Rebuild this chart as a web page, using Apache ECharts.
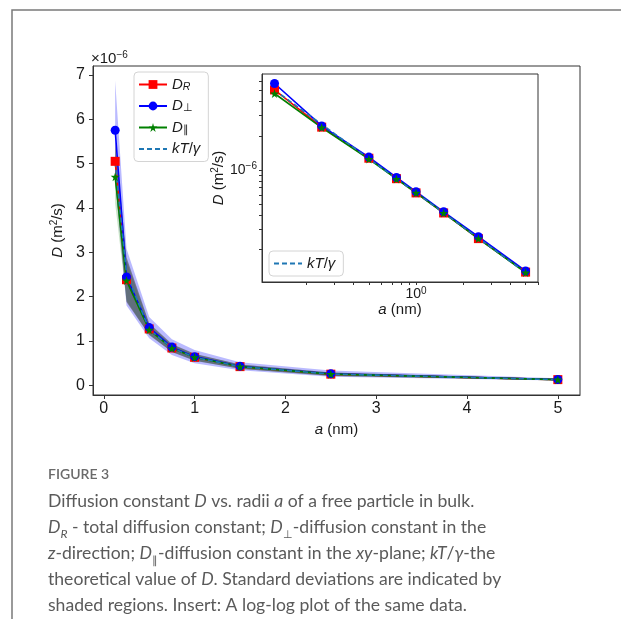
<!DOCTYPE html>
<html>
<head>
<meta charset="utf-8">
<script src="https://cdn.jsdelivr.net/npm/echarts@6/dist/echarts.min.js"></script>
<style>
  html, body { margin: 0; padding: 0; background: #fff; }
  #main { width: 621px; height: 619px; }
</style>
</head>
<body>
<div id="main"></div>
<script>
// radii a (nm) and diffusion constants in units of 1e-6 m^2/s
var radii = [0.125, 0.25, 0.5, 0.75, 1, 1.5, 2.5, 5];
var dR = [5.05, 2.38, 1.27, 0.84, 0.63, 0.42, 0.25, 0.127];
var dPerp = [5.75, 2.44, 1.30, 0.86, 0.645, 0.43, 0.26, 0.13];
var dPar = [4.70, 2.36, 1.25, 0.835, 0.63, 0.42, 0.25, 0.126];
var kTgamma = [5.04, 2.52, 1.26, 0.84, 0.63, 0.42, 0.252, 0.126];
// standard deviations (shaded regions)
var dPerpStd = [1.12, 0.64, 0.24, 0.18, 0.15, 0.09, 0.07, 0.025];
var dRStd = [0.45, 0.5, 0.13, 0.09, 0.08, 0.05, 0.04, 0.015];
var dParStd = [0.6, 0.45, 0.12, 0.08, 0.07, 0.05, 0.035, 0.012];

var xTicks = [0, 1, 2, 3, 4, 5];
var yTicks = [0, 1, 2, 3, 4, 5, 6, 7];
var insetXMinor = [0.2, 0.3, 0.4, 0.5, 0.6, 0.7, 0.8, 0.9, 1, 2, 3, 4, 5, 6];
var insetYMinor = [0.2, 0.3, 0.4, 0.5, 0.6, 0.7, 0.8, 0.9, 1, 2, 3, 4, 5, 6];

var legendNames = {
  'D_R': '{i|D}{subi|R}',
  'D_perp': '{i|D}{sub|⊥}',
  'D_par': '{i|D}{sub|∥}',
  'kT': '{i|kT}/{i|γ}'
};

var axisFont = 'Liberation Sans';
var richText = {
  i: { fontStyle: 'italic', fontSize: 15, fontFamily: axisFont, color: '#1a1a1a' },
  n: { fontSize: 14, fontFamily: axisFont, color: '#1a1a1a' },
  t: { fontSize: 16, fontFamily: axisFont, color: '#1a1a1a' },
  sub: { fontSize: 10.5, fontFamily: axisFont, color: '#1a1a1a', verticalAlign: 'bottom', padding: [5, 0, 0, 0] },
  subi: { fontSize: 10.5, fontStyle: 'italic', fontFamily: axisFont, color: '#1a1a1a', verticalAlign: 'bottom', padding: [5, 0, 0, 0] },
  sup: { fontSize: 10, fontFamily: axisFont, color: '#1a1a1a', verticalAlign: 'top', padding: [0, 0, 7, 0] }
};

var starPath = 'path://M50,0 L61,35 L98,35 L68,57 L79,91 L50,70 L21,91 L32,57 L2,35 L39,35 Z';

function pairs(arr) {
  return radii.map(function (a, i) { return [a, arr[i]]; });
}

function band(mean, std, fill, xi) {
  return {
    type: 'custom',
    xAxisIndex: xi, yAxisIndex: xi,
    silent: true,
    data: pairs(mean),
    renderItem: function (params, api) {
      if (params.dataIndex !== 0) return;
      var pts = [];
      for (var i = 0; i < radii.length; i++) pts.push(api.coord([radii[i], mean[i] + std[i]]));
      for (var j = radii.length - 1; j >= 0; j--) pts.push(api.coord([radii[j], mean[j] - std[j]]));
      return { type: 'polygon', shape: { points: pts }, style: { fill: fill } };
    }
  };
}

function line(name, arr, color, symbol, size, xi, dashed) {
  return {
    type: 'line', name: name,
    xAxisIndex: xi, yAxisIndex: xi,
    data: pairs(arr),
    symbol: symbol, symbolSize: size,
    showSymbol: symbol !== 'none',
    color: color,
    itemStyle: { color: color },
    lineStyle: { color: color, width: 1.6, type: dashed ? [5, 3] : 'solid' },
    animation: false
  };
}

function tickText(v) { return '{t|' + v + '}'; }

var legendData = ['D_R', 'D_perp', 'D_par', { name: 'kT', itemStyle: { opacity: 0 } }];

var myChart = echarts.init(document.getElementById('main'));
var option = {
  animation: false,
  backgroundColor: '#fff',
  title: [{
    left: 86, top: 45,
    text: '×10{sup|−6}',
    textStyle: { fontSize: 15, fontWeight: 'normal', fontFamily: axisFont, color: '#1a1a1a', rich: richText }
  }, {
    left: 43, top: 462,
    text: 'FIGURE 3',
    textStyle: { fontSize: 14, fontWeight: 600, fontFamily: 'Lato', color: '#6a6a6a' }
  }, {
    left: 43, top: 483,
    text: 'Diffusion constant {ci|D} vs. radii {ci|a} of a free particle in bulk.\n' +
      '{ci|D}{csub|R} - total diffusion constant; {ci|D}{csubn|⊥}-diffusion constant in the\n' +
      '{ci|z}-direction; {ci|D}{csubn|∥}-diffusion constant in the {ci|xy}-plane; {ci|kT}/{ci|γ}-the\n' +
      'theoretical value of {ci|D}. Standard deviations are indicated by\n' +
      'shaded regions. Insert: A log-log plot of the same data.',
    textStyle: {
      fontSize: 17.6, fontWeight: 'normal', fontFamily: 'Lato', color: '#5a5a5a', lineHeight: 26,
      rich: {
        ci: { fontSize: 17.6, fontStyle: 'italic', fontFamily: 'Lato', color: '#5a5a5a', lineHeight: 26 },
        csub: { fontSize: 12, fontStyle: 'italic', fontFamily: 'Lato', color: '#5a5a5a', verticalAlign: 'bottom', padding: [4, 0, 0, 0] },
        csubn: { fontSize: 11, fontFamily: 'Lato', color: '#5a5a5a', verticalAlign: 'bottom', padding: [4, 0, 0, 0] }
      }
    }
  }],
  graphic: [{
    type: 'rect', silent: true,
    shape: { x: 12, y: 10, width: 800, height: 800 },
    style: { fill: 'none', stroke: '#7a7a7a', lineWidth: 1.5 }
  }],
  legend: [{
    left: 134, top: 72,
    orient: 'vertical',
    data: legendData,
    itemWidth: 28, itemHeight: 11, itemGap: 6,
    padding: [5, 8, 5, 4],
    borderColor: '#d4d4d4', borderWidth: 1, borderRadius: 4,
    backgroundColor: 'rgba(255,255,255,0.85)',
    formatter: function (name) { return legendNames[name]; },
    textStyle: { fontFamily: axisFont, fontSize: 15, color: '#1a1a1a', rich: richText }
  }, {
    left: 269, top: 251,
    data: [{ name: 'kT', itemStyle: { opacity: 0 } }],
    itemWidth: 28, itemHeight: 11,
    padding: [5, 8, 5, 4],
    borderColor: '#d4d4d4', borderWidth: 1, borderRadius: 4,
    backgroundColor: 'rgba(255,255,255,0.85)',
    formatter: function (name) { return legendNames[name]; },
    textStyle: { fontFamily: axisFont, fontSize: 15, color: '#1a1a1a', rich: richText }
  }],
  grid: [{
    left: 93, right: 41, top: 66, bottom: 224,
    show: true, borderColor: '#333', borderWidth: 1, backgroundColor: 'rgba(0,0,0,0)'
  }, {
    left: 262, right: 83, top: 74, bottom: 337,
    show: true, borderColor: '#333', borderWidth: 1, backgroundColor: '#fff'
  }],
  xAxis: [{
    type: 'value', gridIndex: 0,
    min: -0.119, max: 5.244,
    name: '{i|a} (nm)', nameLocation: 'middle', nameGap: 22,
    nameTextStyle: { fontFamily: axisFont, fontSize: 15, color: '#1a1a1a', rich: richText },
    splitLine: { show: false },
    axisLine: { onZero: false, lineStyle: { color: '#333' } },
    axisTick: { customValues: xTicks, length: 4, lineStyle: { color: '#333' } },
    axisLabel: { customValues: xTicks, formatter: tickText, rich: richText, margin: 6 }
  }, {
    type: 'log', gridIndex: 1,
    min: 0.104, max: 6.0,
    name: '{i|a} (nm)', nameLocation: 'middle', nameGap: 12,
    nameTextStyle: { fontFamily: axisFont, fontSize: 15, color: '#1a1a1a', rich: richText },
    splitLine: { show: false },
    axisLine: { onZero: false, lineStyle: { color: '#333' } },
    axisTick: { customValues: insetXMinor, length: 3, lineStyle: { color: '#333' } },
    axisLabel: {
      customValues: [1], margin: 4,
      formatter: function () { return '{n|10}{sup|0}'; },
      rich: richText
    }
  }],
  yAxis: [{
    type: 'value', gridIndex: 0,
    min: -0.22, max: 7.2,
    name: '{i|D} (m{sup|2}/s)', nameLocation: 'middle', nameGap: 21,
    nameTextStyle: { fontFamily: axisFont, fontSize: 15, color: '#1a1a1a', rich: richText },
    splitLine: { show: false },
    axisLine: { onZero: false, lineStyle: { color: '#333' } },
    axisTick: { customValues: yTicks, length: 4, lineStyle: { color: '#333' } },
    axisLabel: { customValues: yTicks, formatter: tickText, rich: richText, margin: 8 }
  }, {
    type: 'log', gridIndex: 1,
    min: 0.104, max: 6.97,
    name: '{i|D} (m{sup|2}/s)', nameLocation: 'middle', nameGap: 30,
    nameTextStyle: { fontFamily: axisFont, fontSize: 15, color: '#1a1a1a', rich: richText },
    splitLine: { show: false },
    axisLine: { onZero: false, lineStyle: { color: '#333' } },
    axisTick: { customValues: insetYMinor, length: 3, lineStyle: { color: '#333' } },
    axisLabel: {
      customValues: [1], margin: 5,
      formatter: function () { return '{n|10}{sup|−6}'; },
      rich: richText
    }
  }],
  series: [
    band(dPerp, dPerpStd, 'rgba(40,40,255,0.32)', 0),
    band(dPar, dParStd, 'rgba(0,128,0,0.22)', 0),
    band(dR, dRStd, 'rgba(50,50,50,0.5)', 0),
    line('D_R', dR, '#ff0000', 'rect', 9, 0, false),
    line('D_perp', dPerp, '#0000ff', 'circle', 9, 0, false),
    line('D_par', dPar, '#008000', starPath, 9, 0, false),
    line('kT', kTgamma, '#1f77b4', 'none', 0, 0, true),
    line('D_R', dR, '#ff0000', 'rect', 9, 1, false),
    line('D_perp', dPerp, '#0000ff', 'circle', 9, 1, false),
    line('D_par', dPar, '#008000', starPath, 9, 1, false),
    line('kT', kTgamma, '#1f77b4', 'none', 0, 1, true)
  ]
};
myChart.setOption(option);
</script>
</body>
</html>
